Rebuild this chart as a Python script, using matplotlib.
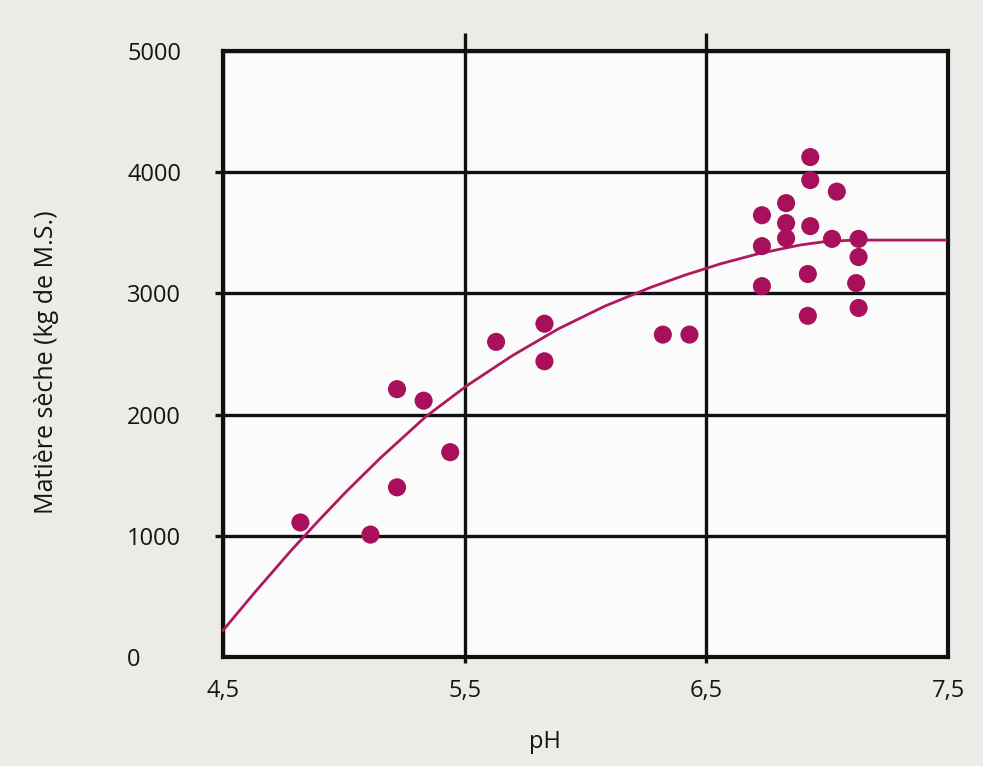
import matplotlib
matplotlib.use("Agg")
import matplotlib.pyplot as plt
from matplotlib.ticker import FixedLocator, FixedFormatter

# points (pH, kg de M.S.)
ph = [4.82, 5.11, 5.22, 5.33, 5.22, 5.44, 5.63, 5.83, 5.83, 6.32, 6.43,
      6.93, 6.93, 7.04, 6.83, 6.73, 6.83, 6.93, 6.83, 6.73, 7.02, 7.13,
      7.13, 6.92, 6.73, 7.12, 7.13, 6.92]
ms = [1110, 1010, 2210, 2115, 1400, 1690, 2600, 2750, 2440, 2660, 2660,
      4125, 3935, 3840, 3745, 3645, 3580, 3555, 3455, 3390, 3450, 3450,
      3300, 3160, 3060, 3085, 2880, 2815]

# fitted curve, read at several pH values
curve_ph = [4.50, 4.63, 4.78, 4.90, 5.01, 5.15, 5.34, 5.51, 5.70, 5.89, 6.08,
            6.27, 6.41, 6.56, 6.72, 6.89, 7.00, 7.12, 7.49]
curve_ms = [220, 530, 875, 1135, 1365, 1640, 1985, 2240, 2490, 2710, 2895,
            3050, 3150, 3245, 3330, 3400, 3430, 3440, 3440]

xticks = [4.5, 5.5, 6.5, 7.5]
xlabels = ["4,5", "5,5", "6,5", "7,5"]
yticks = [0, 1000, 2000, 3000, 4000, 5000]
ylabels = ["0", "1000", "2000", "3000", "4000", "5000"]

plt.rcParams['font.family'] = ['Open Sans', 'DejaVu Sans']
txt = "#151515"

fig = plt.figure(figsize=(9.83, 7.66), dpi=100, facecolor="#ecebe8")
ax = fig.add_axes([0.2269, 0.1423, 0.7375, 0.7911])
ax.set_facecolor("#fbfbfb")

ax.set_xlim(4.5, 7.5)
ax.set_ylim(0, 5000)

ax.xaxis.set_major_locator(FixedLocator(xticks))
ax.xaxis.set_major_formatter(FixedFormatter(xlabels))
ax.yaxis.set_major_locator(FixedLocator(yticks))
ax.yaxis.set_major_formatter(FixedFormatter(ylabels))

ax.grid(True, color="#111111", linewidth=2.4, zorder=1)
ax.set_axisbelow(True)
for s in ax.spines.values():
	s.set_linewidth(3)
	s.set_color("#111111")
	s.set_zorder(2)

ax.tick_params(axis="x", direction="out", length=4, width=2.4, color="#111111",
               pad=12, labelsize=17, labelcolor=txt, top=True, labeltop=False)
for t in ax.xaxis.get_major_ticks():
	t.tick2line.set_markersize(13)
ax.tick_params(axis="y", direction="out", length=6, width=2.4, color="#111111",
               pad=63, labelsize=17, labelcolor=txt)
for lab in ax.get_yticklabels():
	lab.set_horizontalalignment("left")

# no tick marks at the corners
xt = ax.xaxis.get_major_ticks()
yt = ax.yaxis.get_major_ticks()
for t in (xt[0], xt[-1]):
	t.tick1line.set_visible(False)
	t.tick2line.set_visible(False)
for t in (yt[0], yt[-1]):
	t.tick1line.set_visible(False)

ax.plot(curve_ph, curve_ms, color="#b0185f", linewidth=2, zorder=3, clip_on=False)
ax.scatter(ph, ms, s=170, color="#a8105c", edgecolors="none", zorder=4)

ax.set_xlabel("pH", fontsize=17, color=txt)
ax.xaxis.set_label_coords(0.444, -0.12)
ax.set_ylabel("Matière sèche (kg de M.S.)", fontsize=18, color=txt)
ax.yaxis.set_label_coords(-0.226, 0.487)

fig.savefig("out.png", dpi=100, facecolor=fig.get_facecolor())
